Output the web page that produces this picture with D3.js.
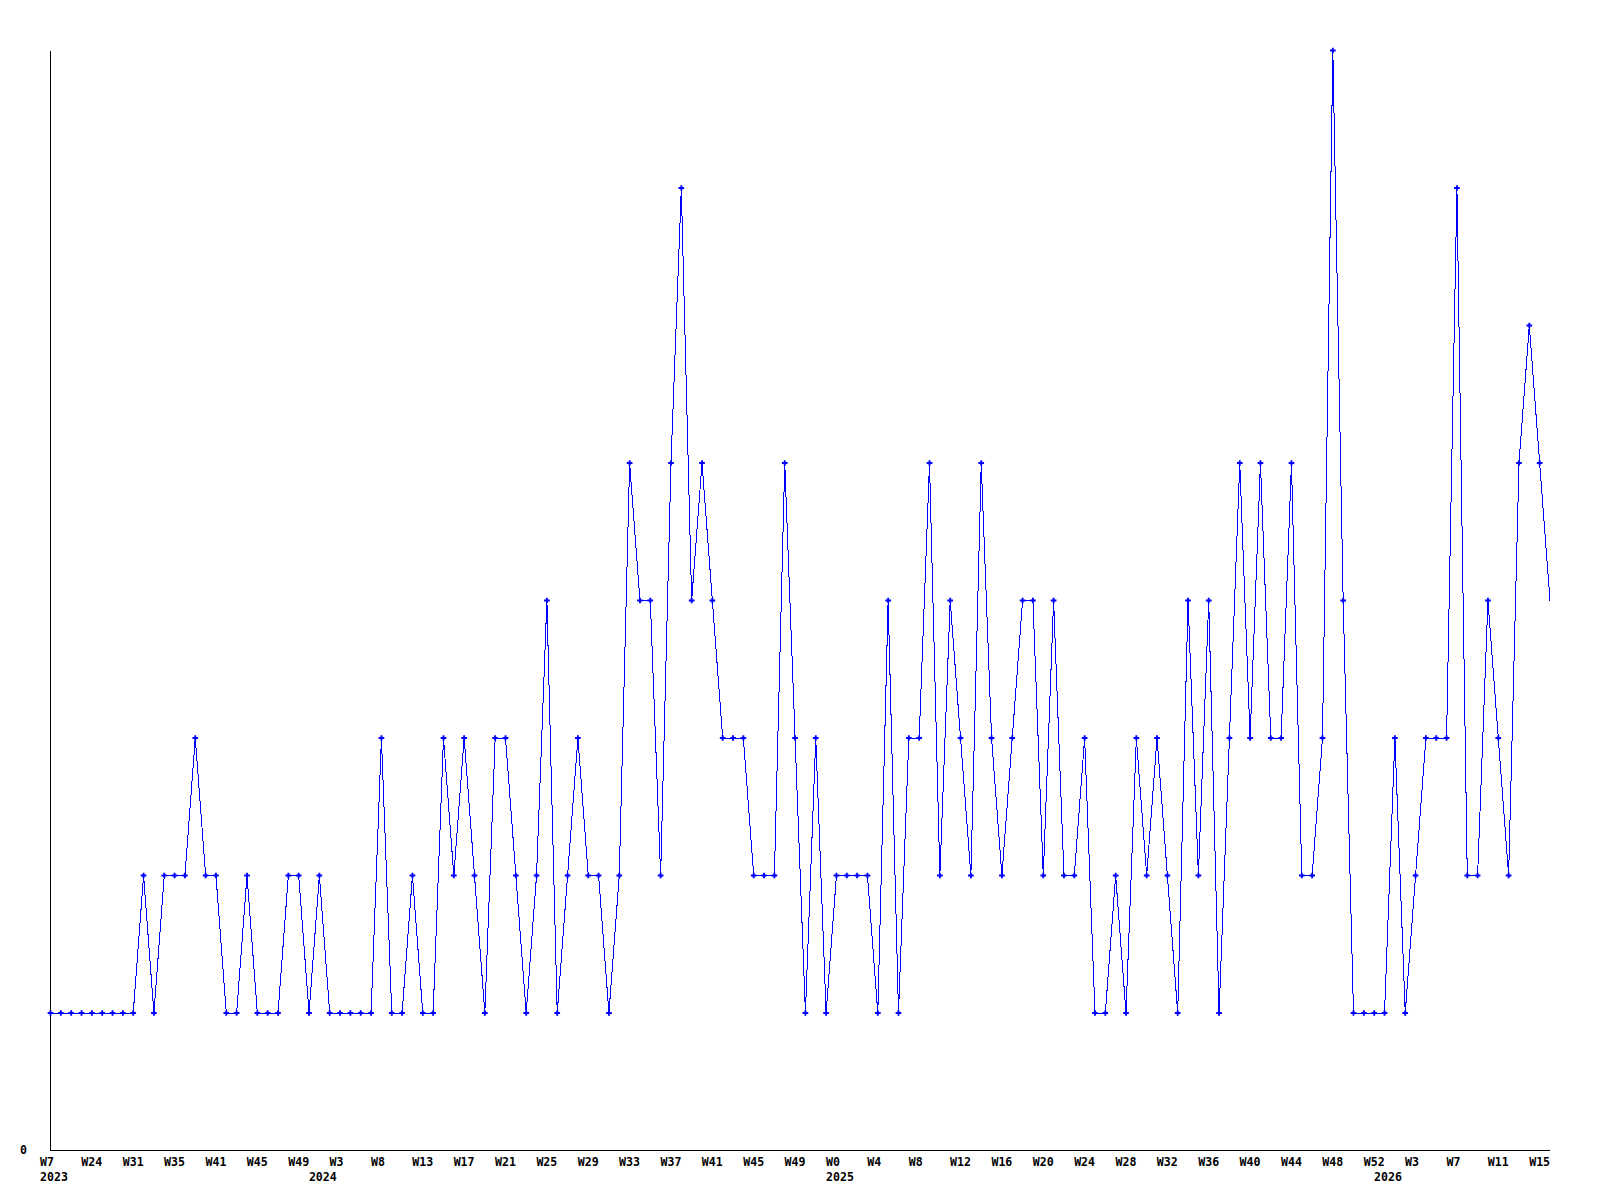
<!DOCTYPE html>
<html>
<head>
<meta charset="utf-8">
<script src="https://cdn.jsdelivr.net/npm/d3@7"></script>
<style>
  html, body { margin: 0; padding: 0; background: #ffffff; }
  svg text { font-family: "DejaVu Sans Mono", "Liberation Mono", monospace; font-weight: bold; font-size: 11.6px; fill: #000; }
</style>
</head>
<body>
<svg id="chart" width="1600" height="1200"></svg>
<script>
// Weekly values, one per point
const values = [
  1,1,1,1,1,1,1,1,1,2,
  1,2,2,2,3,2,2,1,1,2,
  1,1,1,2,2,1,2,1,1,1,
  1,1,3,1,1,2,1,1,3,2,
  3,2,1,3,3,2,1,2,4,1,
  2,3,2,2,1,2,5,4,4,2,
  5,7,4,5,4,3,3,3,2,2,
  2,5,3,1,3,1,2,2,2,2,
  1,4,1,3,3,5,2,4,3,2,
  5,3,2,3,4,4,2,4,2,2,
  3,1,1,2,1,3,2,3,2,1,
  4,2,4,1,3,5,3,5,3,3,
  5,2,2,3,8,4,1,1,1,1,
  3,1,2,3,3,3,7,2,2,4,
  3,2,5,6,5,4
];

// Week tick labels, one every `tickStep` points
const tickStep = 4;
const tickLabels = [
  "W7","W24","W31","W35","W41","W45","W49","W3","W8","W13","W17","W21",
  "W25","W29","W33","W37","W41","W45","W49","W0","W4","W8","W12","W16",
  "W20","W24","W28","W32","W36","W40","W44","W48","W52","W3","W7","W11","W15"
];

// Year labels and the point index where each year starts
const yearLabels = ["2023","2024","2025","2026"];
const yearStartIndex = [0, 26, 76, 129];

// Y axis labels
const yTickValues = [0];

const svg = d3.select("#chart");
const n = values.length;

const x = d3.scaleLinear().domain([0, n - 1]).range([50.5, 1550]);
const y = d3.scaleLinear().domain([0, 8]).range([1150.5, 50.5]);

// axes lines
svg.append("line")
  .attr("x1", x(0)).attr("x2", x(0))
  .attr("y1", y(8)).attr("y2", y(0))
  .attr("stroke", "#000").attr("stroke-width", 1)
  .attr("shape-rendering", "crispEdges");
svg.append("line")
  .attr("x1", x(0)).attr("x2", x(n - 1))
  .attr("y1", y(0)).attr("y2", y(0))
  .attr("stroke", "#000").attr("stroke-width", 1)
  .attr("shape-rendering", "crispEdges");

// y labels
svg.selectAll("text.ylab").data(yTickValues).enter().append("text")
  .attr("class", "ylab")
  .attr("x", 20)
  .attr("y", d => y(d) + 3.5)
  .text(d => d);

// x week labels
svg.selectAll("text.xlab").data(tickLabels).enter().append("text")
  .attr("class", "xlab")
  .attr("x", (d, i) => x(i * tickStep) - 10.5)
  .attr("y", y(0) + 15.5)
  .text(d => d);

// year labels
svg.selectAll("text.yearlab").data(yearLabels).enter().append("text")
  .attr("class", "yearlab")
  .attr("x", (d, i) => x(yearStartIndex[i]) - 10.5)
  .attr("y", y(0) + 30.5)
  .text(d => d);

// line
const line = d3.line()
  .x((d, i) => x(i))
  .y(d => y(d));

svg.append("path")
  .datum(values)
  .attr("d", line)
  .attr("fill", "none")
  .attr("stroke", "#0000ff")
  .attr("stroke-width", 1)
  .attr("shape-rendering", "crispEdges");

// markers (all points except the last)
const cross = d3.symbol().type(d3.symbolCross).size(18);
svg.selectAll("path.marker").data(values.slice(0, n - 1)).enter().append("path")
  .attr("class", "marker")
  .attr("d", cross)
  .attr("transform", (d, i) => `translate(${x(i)},${y(d)})`)
  .attr("fill", "#0000ff");
</script>
</body>
</html>
